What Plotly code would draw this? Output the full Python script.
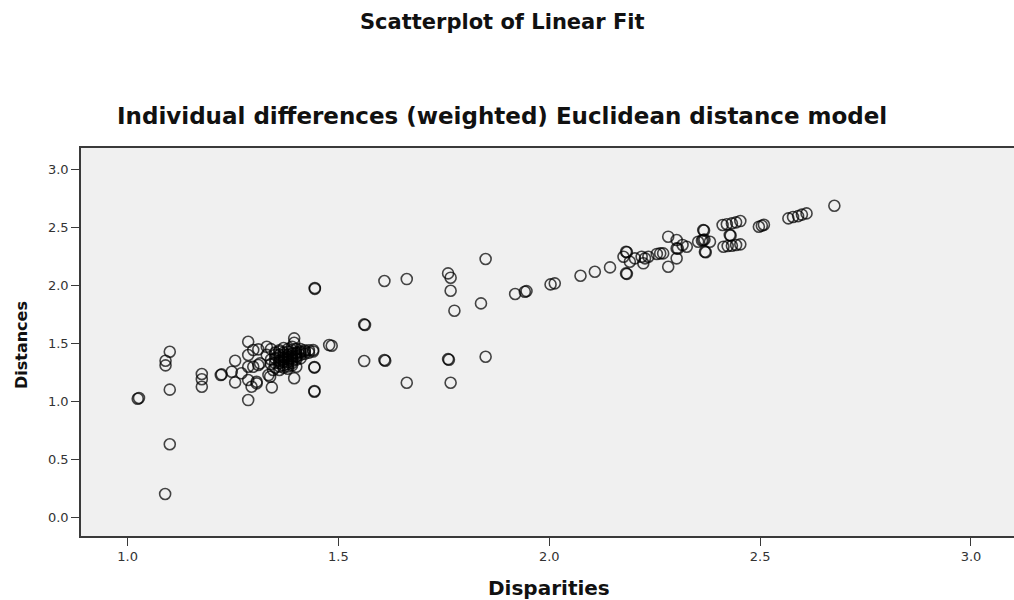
import plotly.graph_objects as go

# Disparities (x) and Distances (y)
disparities = [
    1.027, 1.024, 1.100, 1.090, 1.090, 1.100, 1.100, 1.089,
    1.176, 1.176, 1.176, 1.223, 1.221, 1.255, 1.247, 1.255,
    1.286, 1.286, 1.286, 1.286, 1.286, 1.298, 1.306, 1.294, 1.310,
    1.342, 1.338, 1.345, 1.330, 1.395, 1.395, 1.395, 1.400, 1.440,
    1.443, 1.443, 1.443, 1.443, 1.478, 1.444, 1.444,
    1.298, 1.314, 1.306, 1.270, 1.334, 1.310,
    # dense cluster
    1.34, 1.35, 1.36, 1.37, 1.38, 1.39, 1.40, 1.41, 1.42, 1.43,
    1.36, 1.37, 1.38, 1.39, 1.40, 1.41, 1.42, 1.35, 1.36, 1.37,
    1.38, 1.39, 1.40, 1.37, 1.38, 1.36, 1.35, 1.34, 1.35, 1.39,
    1.38, 1.41, 1.44, 1.33, 1.34, 1.36, 1.37, 1.39, 1.40,
    1.35, 1.36, 1.37, 1.38, 1.39, 1.40, 1.41, 1.42, 1.43, 1.38,
    1.37, 1.36, 1.38, 1.39, 1.40, 1.37, 1.38, 1.39, 1.36, 1.41,
    # middle
    1.484, 1.561, 1.563, 1.561, 1.609, 1.609, 1.611, 1.662, 1.662,
    1.760, 1.766, 1.766, 1.775, 1.760, 1.762, 1.766, 1.849, 1.838,
    1.849, 1.919, 1.942, 1.946, 2.003, 2.013, 2.074, 2.108, 2.144,
    # upper band
    2.182, 2.184, 2.182, 2.184, 2.176, 2.191, 2.203, 2.219, 2.227,
    2.235, 2.223, 2.263, 2.270, 2.255, 2.282, 2.282, 2.302, 2.302,
    2.305, 2.302, 2.326, 2.353, 2.316, 2.365, 2.367, 2.365, 2.362,
    2.368, 2.381, 2.369, 2.371, 2.411, 2.421, 2.433, 2.443, 2.453,
    2.428, 2.430, 2.413, 2.423, 2.433, 2.443, 2.453, 2.497, 2.504,
    2.509, 2.567, 2.578, 2.590, 2.599, 2.610, 2.676,
]
distances = [
    1.028, 1.022, 1.427, 1.350, 1.310, 1.100, 0.628, 0.199,
    1.235, 1.190, 1.125, 1.232, 1.226, 1.350, 1.255, 1.163,
    1.514, 1.399, 1.298, 1.183, 1.010, 1.442, 1.154, 1.125, 1.313,
    1.120, 1.212, 1.270, 1.470, 1.543, 1.505, 1.198, 1.298, 1.442,
    1.290, 1.296, 1.088, 1.082, 1.485, 1.978, 1.970,
    1.298, 1.327, 1.168, 1.241, 1.226, 1.448,
    # dense cluster
    1.45, 1.42, 1.44, 1.46, 1.45, 1.44, 1.45, 1.43, 1.44, 1.42,
    1.40, 1.38, 1.40, 1.41, 1.39, 1.40, 1.41, 1.37, 1.35, 1.34,
    1.36, 1.37, 1.36, 1.31, 1.32, 1.30, 1.33, 1.36, 1.29, 1.33,
    1.28, 1.37, 1.43, 1.40, 1.32, 1.27, 1.42, 1.47, 1.42,
    1.40, 1.43, 1.40, 1.43, 1.39, 1.41, 1.42, 1.43, 1.44, 1.38,
    1.36, 1.33, 1.34, 1.35, 1.38, 1.29, 1.30, 1.31, 1.38, 1.45,
    # middle
    1.479, 1.664, 1.658, 1.347, 2.038, 1.356, 1.350, 2.055, 1.160,
    2.104, 2.067, 1.954, 1.782, 1.364, 1.358, 1.160, 2.228, 1.845,
    1.384, 1.926, 1.946, 1.951, 2.009, 2.018, 2.084, 2.118, 2.156,
    # upper band
    2.291, 2.287, 2.104, 2.100, 2.248, 2.205, 2.234, 2.248, 2.234,
    2.248, 2.191, 2.277, 2.277, 2.272, 2.421, 2.161, 2.392, 2.320,
    2.318, 2.234, 2.334, 2.377, 2.349, 2.478, 2.474, 2.392, 2.388,
    2.396, 2.377, 2.291, 2.287, 2.522, 2.528, 2.536, 2.545, 2.556,
    2.435, 2.431, 2.334, 2.340, 2.343, 2.349, 2.355, 2.507, 2.516,
    2.524, 2.579, 2.591, 2.599, 2.612, 2.622, 2.688,
]

x_ticks = [1.0, 1.5, 2.0, 2.5, 3.0]
y_ticks = [0.0, 0.5, 1.0, 1.5, 2.0, 2.5, 3.0]

main_title = "Scatterplot of Linear Fit"
sub_title = "Individual differences (weighted) Euclidean distance model"
x_title = "Disparities"
y_title = "Distances"

FONT = "DejaVu Sans"
AXIS = "#3a3a3a"

fig = go.Figure()
fig.add_trace(go.Scatter(
    x=disparities, y=distances, mode="markers",
    marker=dict(symbol="circle-open", size=11, color="#000000", opacity=0.72,
                line=dict(width=1.6, color="#000000")),
    hoverinfo="x+y", showlegend=False,
))

fig.update_layout(
    width=1014, height=600,
    margin=dict(l=81, r=0, t=148, b=64),
    paper_bgcolor="white", plot_bgcolor="#f0f0f0",
    font=dict(family=FONT, color="#222222"),
    xaxis=dict(range=[0.8895, 3.102], tickvals=x_ticks, tickformat=".1f",
               showgrid=False, zeroline=False, showline=True, linecolor=AXIS,
               linewidth=1.6, mirror=True, ticks="outside", ticklen=8,
               tickwidth=1.4, tickcolor=AXIS, tickfont=dict(size=13, color="#333333")),
    yaxis=dict(range=[-0.164, 3.187], tickvals=y_ticks, tickformat=".1f",
               showgrid=False, zeroline=False, showline=True, linecolor=AXIS,
               linewidth=1.6, ticks="outside", ticklen=8, tickwidth=1.4,
               tickcolor=AXIS, tickfont=dict(size=13, color="#333333")),
    annotations=[
        dict(text=f"<b>{main_title}</b>", xref="paper", yref="paper",
             x=0.4523, y=1.3247, xanchor="center", yanchor="middle",
             showarrow=False, font=dict(family=FONT, size=21, color="#111111")),
        dict(text=f"<b>{sub_title}</b>", xref="paper", yref="paper",
             x=0.4512, y=1.0825, xanchor="center", yanchor="middle",
             showarrow=False, font=dict(family=FONT, size=23, color="#111111")),
        dict(text=f"<b>{x_title}</b>", xref="paper", yref="paper",
             x=0.5016, y=-0.134, xanchor="center", yanchor="middle",
             showarrow=False, font=dict(family=FONT, size=20, color="#111111")),
        dict(text=f"<b>{y_title}</b>", xref="paper", yref="paper",
             x=-0.0632, y=0.4923, xanchor="center", yanchor="middle",
             textangle=-90, showarrow=False,
             font=dict(family=FONT, size=16, color="#111111")),
    ],
)

fig.write_html("out.html")
